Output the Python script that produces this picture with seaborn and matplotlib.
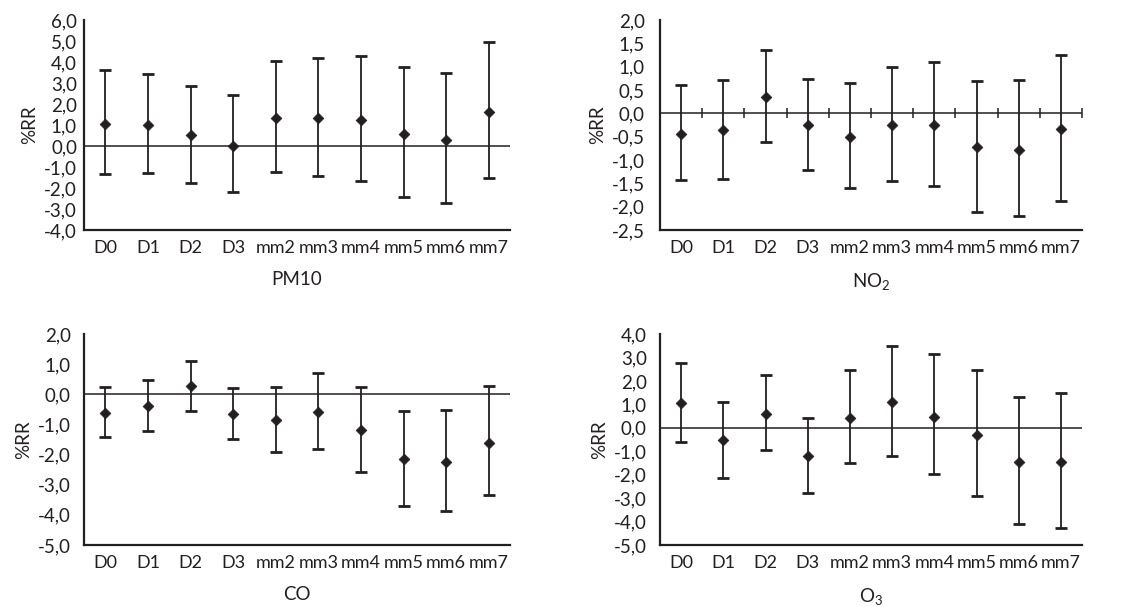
import matplotlib
matplotlib.use("Agg")
import matplotlib.pyplot as plt
import numpy as np
import pandas as pd
import seaborn as sns
from matplotlib.ticker import FuncFormatter

# Defasagens (lags) e medias moveis
LAGS = ["D0", "D1", "D2", "D3", "mm2", "mm3", "mm4", "mm5", "mm6", "mm7"]

# %RR com IC95% para cada poluente
PM10_EST = [1.06, 1.00, 0.52, 0.02, 1.35, 1.35, 1.22, 0.57, 0.30, 1.60]
PM10_LO = [-1.32, -1.27, -1.75, -2.17, -1.22, -1.41, -1.65, -2.41, -2.73, -1.54]
PM10_HI = [3.60, 3.41, 2.86, 2.41, 4.05, 4.21, 4.29, 3.78, 3.48, 4.94]

NO2_EST = [-0.44, -0.36, 0.36, -0.26, -0.51, -0.26, -0.26, -0.73, -0.78, -0.33]
NO2_LO = [-1.43, -1.41, -0.62, -1.21, -1.61, -1.46, -1.55, -2.12, -2.19, -1.88]
NO2_HI = [0.61, 0.71, 1.36, 0.74, 0.64, 0.99, 1.09, 0.69, 0.71, 1.26]

CO_EST = [-0.62, -0.40, 0.27, -0.67, -0.85, -0.58, -1.20, -2.15, -2.23, -1.60]
CO_LO = [-1.41, -1.21, -0.55, -1.47, -1.91, -1.83, -2.59, -3.71, -3.87, -3.34]
CO_HI = [0.24, 0.48, 1.12, 0.21, 0.24, 0.70, 0.23, -0.55, -0.52, 0.26]

O3_EST = [1.04, -0.54, 0.60, -1.22, 0.40, 1.08, 0.48, -0.30, -1.48, -1.44]
O3_LO = [-0.61, -2.13, -0.95, -2.77, -1.49, -1.19, -1.99, -2.92, -4.10, -4.27]
O3_HI = [2.77, 1.12, 2.26, 0.43, 2.45, 3.47, 3.13, 2.48, 1.31, 1.49]

TITLES = ["PM10", "NO$_2$", "CO", "O$_3$"]
YLIMS = [(-4.0, 6.0), (-2.5, 2.0), (-5.0, 2.0), (-5.0, 4.0)]
YSTEPS = [1.0, 0.5, 1.0, 1.0]

INK = "#231f20"
FS = 13.5

sns.set_theme(style="white")
plt.rcParams["font.family"] = ["Lato", "DejaVu Sans"]
plt.rcParams["mathtext.default"] = "regular"
plt.rcParams["text.color"] = INK
plt.rcParams["axes.labelcolor"] = INK
plt.rcParams["xtick.color"] = INK
plt.rcParams["ytick.color"] = INK

fig = plt.figure(figsize=(11.25, 6.07), dpi=100)
W, H = 1125, 607
# posicoes dos paineis em pixels: (esq, topo, dir, base)
boxes = [(84, 20, 510, 230), (660, 20, 1082, 230),
         (84, 334, 510, 545), (660, 334, 1082, 545)]

series = [(PM10_EST, PM10_LO, PM10_HI), (NO2_EST, NO2_LO, NO2_HI),
          (CO_EST, CO_LO, CO_HI), (O3_EST, O3_LO, O3_HI)]

comma = FuncFormatter(lambda v, p: f"{v:.1f}".replace(".", ","))

for i, (box, (est, lo, hi)) in enumerate(zip(boxes, series)):
    l, t, r, b = box
    ax = fig.add_axes([l / W, 1 - b / H, (r - l) / W, (b - t) / H])
    df = pd.DataFrame({"lag": LAGS, "est": est, "lo": lo, "hi": hi})
    x = np.arange(len(LAGS))
    ax.axhline(0, color=INK, lw=1.1, zorder=1)
    ax.errorbar(x, df["est"], yerr=[df["est"] - df["lo"], df["hi"] - df["est"]],
                fmt="none", ecolor=INK, elinewidth=1.3, capsize=4, capthick=2,
                zorder=2)
    sns.scatterplot(data=df, x="lag", y="est", marker="D", s=30, color=INK,
                    edgecolor=INK, linewidth=0.5, ax=ax, zorder=3)

    y0, y1 = YLIMS[i]
    ax.set_ylim(y0, y1)
    ax.set_yticks(np.arange(y0, y1 + 0.001, YSTEPS[i]))
    ax.yaxis.set_major_formatter(comma)
    ax.set_xlim(-0.5, len(LAGS) - 0.5)
    ax.set_xticks(x)
    ax.set_xticklabels(LAGS)

    sns.despine(ax=ax)
    for s in ["left", "bottom"]:
        ax.spines[s].set_color(INK)
        ax.spines[s].set_linewidth(1.6)

    ax.tick_params(axis="x", length=0, pad=7, labelsize=13)
    if i >= 2:
        ax.tick_params(axis="y", direction="inout", length=7, width=1.3,
                       pad=6, labelsize=FS)
    else:
        ax.tick_params(axis="y", length=0, pad=5 if i == 0 else 11,
                       labelsize=FS)

    ax.set_xlabel(TITLES[i], fontsize=FS, labelpad=11)
    ax.set_ylabel("%RR", fontsize=FS, labelpad=4)

    if i == 1:
        frac = (0 - y0) / (y1 - y0)
        sec = ax.secondary_xaxis(frac)
        sec.set_xticks(np.arange(0.5, len(LAGS), 1.0))
        sec.tick_params(direction="inout", length=7, width=1.1,
                        labelbottom=False, labeltop=False, color=INK)
        sec.spines["top"].set_visible(False)
        sec.spines["bottom"].set_visible(False)

fig.savefig("out.png", dpi=100, facecolor="white")
